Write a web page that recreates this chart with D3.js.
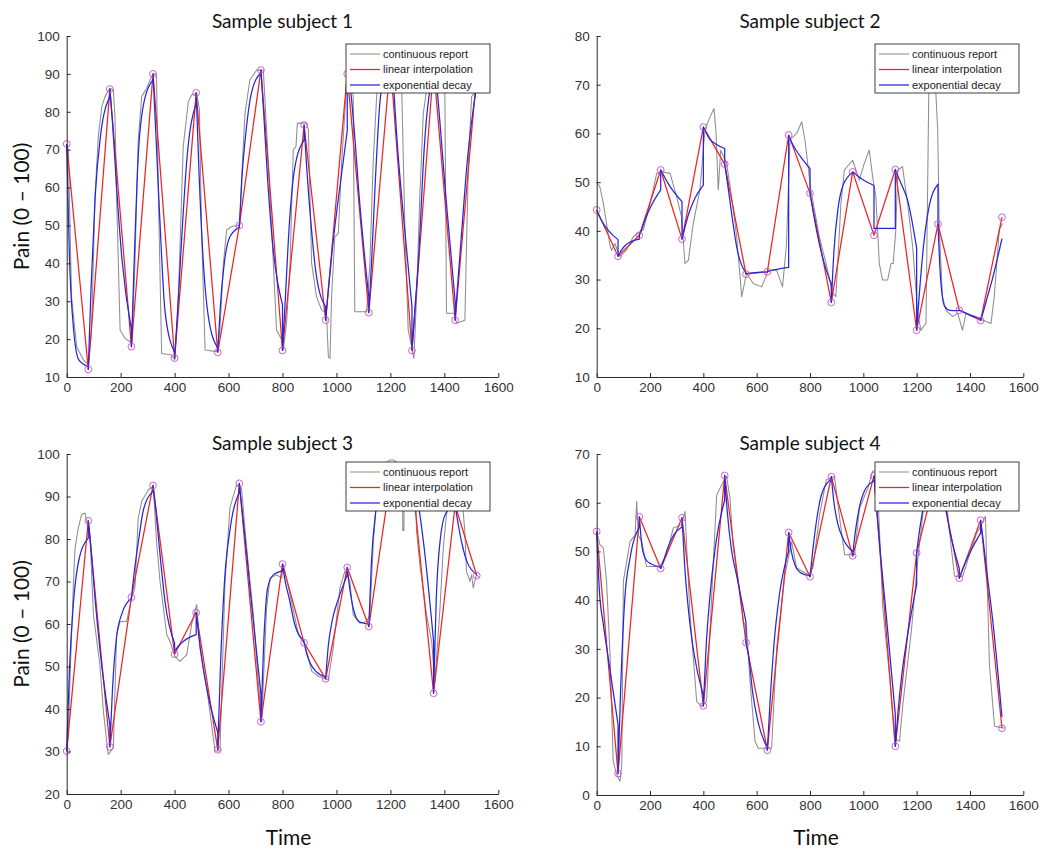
<!DOCTYPE html>
<html>
<head>
<meta charset="utf-8">
<script src="https://cdn.jsdelivr.net/npm/d3@7"></script>
<style>
  body { margin: 0; background: #fff; }
  svg { display: block; }
</style>
</head>
<body>
<svg id="fig" width="1047" height="852"></svg>
<script>
// ---- sampling grid shared by all subjects ----
const sampleTimes = [0, 80, 160, 240, 320, 400, 480, 560, 640, 720, 800, 880, 960, 1040, 1120, 1200, 1280, 1360, 1440, 1520];
// time offsets (within each sampling interval) of the exponential-decay readings
const blueOffsets = [0, 10, 25, 45, 80];

const xTicks = [0, 200, 400, 600, 800, 1000, 1200, 1400, 1600];
const yTicks1 = [10, 20, 30, 40, 50, 60, 70, 80, 90, 100];
const yTicks2 = [10, 20, 30, 40, 50, 60, 70, 80];
const yTicks3 = [20, 30, 40, 50, 60, 70, 80, 90, 100];
const yTicks4 = [0, 10, 20, 30, 40, 50, 60, 70];

const seriesNames = ["continuous report", "linear interpolation", "exponential decay"];
const titles = ["Sample subject 1", "Sample subject 2", "Sample subject 3", "Sample subject 4"];

// ---- subject 1 ----
const gray1 = [[0,71.5],[6,70],[18,31],[37,18],[62,14.5],[80,13.2],[92,22],[105,57.6],[117,73.4],[130,81.3],[142,84],[160,86.2],[173,85.7],[179,78.7],[185,57.6],[198,22.4],[216,20.2],[235,19.3],[241,18.9],[253,40],[265,72.5],[278,84],[296,86.2],[315,89.3],[327,90.1],[333,89.3],[340,57.6],[352,16.2],[389,15.8],[401,14.5],[414,31.2],[432,70.8],[451,82.7],[463,84.4],[482,84.9],[492,80.5],[500,48.8],[513,17.1],[556,16.7],[568,22.4],[581,40],[593,48.8],[611,49.7],[642,50.1],[648,62],[661,79.6],[679,88.4],[704,91],[729,91],[741,75.2],[760,48.8],[778,22.4],[797,19.8],[803,17.1],[815,24.2],[828,40],[840,69.9],[850,70.8],[855,77],[889,77],[896,75.2],[908,40],[926,31.2],[945,27.7],[963,26.8],[970,15.4],[976,14.9],[982,31.2],[994,47],[1007,47.9],[1019,66.4],[1031,79.6],[1038,88.4],[1045,92],[1058,92],[1062,84],[1068,27.2],[1112,27.2],[1124,40],[1136,66.4],[1149,84],[1160,92],[1235,92],[1242,85.7],[1254,48.8],[1266,22.4],[1279,18],[1287,14.9],[1297,31.2],[1309,57.6],[1322,79.6],[1334,85.7],[1345,92],[1395,92],[1402,84],[1408,26.8],[1439,26.8],[1445,24.2],[1476,25],[1489,66.4],[1501,84],[1520,85.7],[1530,86]];
const red1 = [71.5, 12, 86, 18, 90, 15, 85, 16.5, 50, 91, 17, 76.5, 25, 90, 27, 93, 17, 92, 25, 90];
const blue1 = [
  [71.5, 42, 23, 14.5, 12.7],
  [12, 33, 57, 73.5, 84],
  [86, 77, 60, 41, 22.5],
  [18, 40, 68, 82, 88.4],
  [90, 75, 52, 27, 16.5],
  [15, 26, 45, 67, 82.3],
  [85, 65, 42, 26, 17.6],
  [16.7, 29, 40.5, 47, 49.5],
  [50, 63, 75, 85, 90.3],
  [91, 80, 62, 44, 29],
  [17, 30, 50, 65, 72.5],
  [76.5, 65, 51, 37, 28.5],
  [25, 33, 44, 56, 75],
  [90, 87, 76, 57, 31],
  [27, 40, 63, 85, 92],
  [93, 88, 72, 55, 28.5],
  [17, 27, 42, 70, 91],
  [92, 88, 76, 58, 30],
  [25, 35, 49, 67, 87]
];

// ---- subject 2 ----
const gray2 = [[0,50],[12,49],[25,45.6],[37,41.5],[50,37],[56,36],[68,37.4],[87,34.7],[112,36.1],[137,38.8],[175,40.2],[200,45.6],[225,51.8],[250,52.1],[275,51.8],[300,47],[318,42.9],[331,33.3],[344,34],[362,41.5],[387,48.4],[406,60.7],[425,63.4],[440,65.1],[447,60.7],[456,48.4],[465,56.6],[487,53.9],[506,47],[525,38.8],[544,26.5],[562,31.3],[587,29.2],[619,28.5],[644,31.9],[675,31.9],[697,28.5],[712,37.4],[725,58.7],[750,60],[769,62.4],[781,58.7],[803,48.4],[835,38.8],[860,33.3],[885,27.2],[897,26.5],[916,45.6],[929,52.5],[960,54.5],[985,50.4],[1004,53.9],[1022,56.6],[1035,51.1],[1047,47],[1060,33.3],[1072,29.9],[1091,29.9],[1104,33.3],[1112,33.3],[1122,40.2],[1129,52.5],[1147,53.2],[1166,45.6],[1185,36.8],[1204,23.1],[1216,19.6],[1235,21],[1247,75],[1266,75],[1279,60.7],[1285,40.2],[1297,26.5],[1310,23.7],[1335,22.4],[1354,23.1],[1372,19.6],[1385,23.1],[1422,22.4],[1447,21.7],[1479,21],[1491,26.5],[1510,40.2],[1522,41.5]];
const red2 = [44.3, 34.8, 39.1, 52.5, 38.3, 61.3, 53.7, 31.1, 31.6, 59.7, 47.7, 25.3, 52.1, 39.1, 52.6, 19.6, 41.4, 23.7, 21.6, 42.8];
const blue2 = [
  [44.3, 43.0, 41.5, 40.0, 38.2],
  [34.8, 35.8, 36.9, 37.7, 38.3],
  [39.1, 40.5, 42.8, 45.2, 48.4],
  [52.5, 51.5, 50.0, 48.3, 46.0],
  [38.3, 40.5, 43.5, 46.3, 49.4],
  [61.3, 60.2, 58.8, 57.9, 56.9],
  [53.7, 50, 44, 36.7, 31.3],
  [31.2, 31.3, 31.4, 31.5, 31.6],
  [31.6, 31.8, 32.0, 32.2, 32.5],
  [59.5, 58.3, 56.8, 55.2, 52.8],
  [47.7, 44.5, 40, 35, 29],
  [25.3, 36, 44.5, 49.5, 52],
  [52.1, 51.7, 51, 50.3, 49.3],
  [40.5, 40.5, 40.5, 40.5, 40.5],
  [52.6, 51.2, 49.3, 46.5, 36.5],
  [19.6, 27, 36.5, 44.5, 49.6],
  [41.4, 30, 24.5, 23.7, 23.6],
  [23.7, 23.5, 23.1, 22.6, 21.9],
  [21.6, 23.4, 26.4, 30.3, 38.4]
];

// ---- subject 3 ----
const gray3 = [[0,30],[6,34],[12,46.5],[25,70],[31,77.9],[43,82.6],[55,85.7],[68,86.1],[74,84.2],[80,83.4],[86,81],[99,62.2],[123,50.4],[136,39.5],[148,32.4],[154,29.3],[173,30.9],[185,57.5],[198,60.6],[222,60.6],[241,66.1],[253,68.5],[265,84.9],[278,88.9],[303,91.6],[321,92.4],[333,79.4],[346,70],[371,57.5],[383,55.9],[401,52.4],[420,51.2],[445,52.8],[463,59.9],[482,64.6],[494,54.4],[519,45],[537,36.3],[550,30.1],[568,30.1],[587,70],[605,87.3],[630,92.8],[648,92],[667,77.9],[692,62.2],[710,46.5],[723,37.1],[741,63.8],[754,70.8],[778,71.6],[797,70.8],[803,74],[828,66.9],[859,57.5],[883,55.2],[908,48.9],[933,47.7],[970,46.9],[988,54.4],[1013,68.5],[1031,72.4],[1050,70],[1062,62.2],[1087,60.2],[1112,60.6],[1124,62.2],[1137,79.4],[1149,89.6],[1165,97],[1198,98.6],[1212,98.6],[1244,97],[1246,82],[1250,82],[1252,97],[1290,97],[1297,81.8],[1309,74],[1334,62.2],[1353,55.9],[1365,46.5],[1377,57.5],[1384,63.8],[1396,77.9],[1408,85.7],[1420,90],[1465,90],[1476,81.8],[1482,72.4],[1495,70],[1501,71.6],[1507,68.5],[1519,71.6],[1528,71]];
const red3 = [30.1, 84.3, 31.1, 66.3, 92.6, 52.9, 62.7, 30.4, 93.1, 37.0, 74.1, 55.6, 47.1, 73.3, 59.4, 94, 95, 43.7, 88, 71.4];
const blue3 = [
  [30.1, 49, 65, 75, 80.2],
  [84.3, 78, 66, 53, 36.3],
  [31.1, 45, 57, 62.5, 66],
  [66.3, 72, 79, 87, 91.2],
  [92.6, 87, 77, 65, 55.5],
  [53.5, 54.5, 55.5, 56.5, 57.5],
  [62.7, 57, 50, 43, 34.5],
  [30.4, 50, 70, 82, 91],
  [93.1, 87, 78, 65, 43.5],
  [37, 55, 68.5, 71.5, 72.5],
  [74.1, 70, 66, 60, 56],
  [55.6, 53, 50.5, 48.8, 47.5],
  [47.1, 55, 61, 65.5, 71.5],
  [73.3, 68, 63, 60.5, 60],
  [59.4, 75, 86, 92, 94],
  [94, 94.5, 95, 95, 95],
  [95, 92, 87.5, 78, 56],
  [43.7, 66, 80, 86, 88],
  [88, 84, 79, 74.5, 71.7]
];

// ---- subject 4 ----
const gray4 = [[0,54.1],[12,51.4],[25,50.7],[37,43.9],[50,28.8],[62,6.9],[75,4.2],[87,2.8],[94,6.2],[100,43.9],[125,52],[144,53.4],[150,60.3],[156,53.4],[169,52],[187,46.9],[237,46.9],[262,49.3],[287,54.8],[319,55.5],[331,58.2],[350,37],[375,19.2],[394,18.2],[412,19.2],[437,47.3],[450,61.6],[469,63.7],[487,65.4],[500,61],[512,50.7],[537,41.8],[550,35.6],[562,34.3],[575,23.3],[594,11],[606,9.6],[656,9.6],[675,30.2],[706,45.2],[731,52],[750,46.6],[794,45.2],[811,46.6],[836,57.5],[861,64.7],[892,65.4],[911,56.9],[930,49.3],[967,49.3],[986,58.9],[1017,63],[1035,66.5],[1050,66.5],[1058,57.5],[1073,38.4],[1098,24.7],[1117,11.7],[1136,11],[1148,18.5],[1180,33.6],[1205,48.7],[1223,57.5],[1240,67],[1300,67],[1323,54.1],[1342,44.9],[1373,44.9],[1398,49.3],[1423,53.4],[1458,57.2],[1473,26.8],[1492,14.1],[1530,13.7]];
const red4 = [54.1, 4.4, 57.1, 46.5, 56.9, 18.3, 65.6, 31.3, 9.2, 53.9, 44.8, 65.35, 49.1, 65.5, 10, 49.7, 67, 44.5, 56.4, 13.7];
const blue4 = [
  [54.1, 42, 35, 27.5, 14.5],
  [4.4, 22, 40, 48.6, 55],
  [57.1, 51, 48.3, 47.4, 46.8],
  [46.5, 48, 50.5, 53, 55],
  [56.9, 47, 37.5, 29, 20.5],
  [18.3, 30, 41, 51, 60.5],
  [65.6, 58, 50.5, 45, 35.5],
  [31.3, 28.5, 21, 15, 9.7],
  [9.2, 19, 31, 41, 50],
  [53.9, 50, 47, 45.6, 45],
  [44.8, 50, 56.5, 62, 64.8],
  [65.35, 60, 55.5, 52.5, 50],
  [49.1, 54, 59, 62.5, 64.5],
  [65.5, 59, 49, 37.5, 16.5],
  [10, 17, 25, 32.5, 43.2],
  [49.7, 54, 59, 63, 66],
  [67, 64, 60, 54, 46.5],
  [44.5, 46, 48, 50.3, 53.8],
  [56.4, 52, 45, 36, 16]
];

// ---- layout of the four panels ----
const panels = [
  { title: titles[0], gray: gray1, red: red1, blue: blue1, yDomain: [10, 100], yTicks: yTicks1,
    left: 66.7, right: 498.3, top: 36, bottom: 377, titleY: 28, legendRight: 490, yLabel: true, xLabel: false },
  { title: titles[1], gray: gray2, red: red2, blue: blue2, yDomain: [10, 80], yTicks: yTicks2,
    left: 596.7, right: 1023.3, top: 36, bottom: 377, titleY: 27.5, legendRight: 1019, yLabel: false, xLabel: false },
  { title: titles[2], gray: gray3, red: red3, blue: blue3, yDomain: [20, 100], yTicks: yTicks3,
    left: 66.7, right: 498.3, top: 454, bottom: 794, titleY: 449.5, legendRight: 490, yLabel: true, xLabel: true },
  { title: titles[3], gray: gray4, red: red4, blue: blue4, yDomain: [0, 70], yTicks: yTicks4,
    left: 596.7, right: 1023.3, top: 454, bottom: 795, titleY: 449.5, legendRight: 1019, yLabel: false, xLabel: true }
];

const colors = { gray: "#8e8e8e", red: "#ee2424", blue: "#2626e0", marker: "#c452cc", axis: "#2b2b2b" };
const tickFont = "'Liberation Sans', Arial, Helvetica, sans-serif";
const labelFont = "Lato, 'Open Sans', sans-serif";
const plainNumber = d3.format("d");

const svg = d3.select("#fig");

panels.forEach(p => {
  const g = svg.append("g");
  const x = d3.scaleLinear().domain([0, 1600]).range([p.left, p.right]);
  const y = d3.scaleLinear().domain(p.yDomain).range([p.bottom, p.top]);

  // continuous report
  const straight = d3.line().x(d => x(d[0])).y(d => y(d[1]));
  g.append("path")
    .datum(p.gray)
    .attr("d", straight)
    .attr("fill", "none")
    .attr("stroke", colors.gray)
    .attr("stroke-width", 1.05)
    .attr("stroke-linejoin", "round");

  // linear interpolation between samples
  const samples = sampleTimes.map((t, i) => [t, p.red[i]]);
  g.append("path")
    .datum(samples)
    .attr("d", straight)
    .attr("fill", "none")
    .attr("stroke", colors.red)
    .attr("stroke-width", 1.25)
    .attr("stroke-linejoin", "round");

  // exponential decay: one smooth piece per sampling interval, joined end to start
  const smooth = d3.line().x(d => x(d[0])).y(d => y(d[1])).curve(d3.curveMonotoneX);
  let dPath = "";
  p.blue.forEach((vals, k) => {
    const pts = blueOffsets.map((o, j) => [sampleTimes[k] + o, vals[j]]);
    const piece = smooth(pts);
    dPath += (k === 0) ? piece : "L" + piece.slice(1);
  });
  g.append("path")
    .attr("d", dPath)
    .attr("fill", "none")
    .attr("stroke", colors.blue)
    .attr("stroke-width", 1.25)
    .attr("stroke-linejoin", "round");

  // sample markers
  g.selectAll("circle.sample")
    .data(samples)
    .join("circle")
    .attr("class", "sample")
    .attr("cx", d => x(d[0]))
    .attr("cy", d => y(d[1]))
    .attr("r", 3.4)
    .attr("fill", "none")
    .attr("stroke", colors.marker)
    .attr("stroke-width", 0.9);

  // axes (ticks point inward)
  const xAxis = d3.axisBottom(x).tickValues(xTicks).tickFormat(plainNumber)
    .tickSizeInner(-4).tickSizeOuter(0).tickPadding(5);
  const yAxis = d3.axisLeft(y).tickValues(p.yTicks).tickFormat(plainNumber)
    .tickSizeInner(-4).tickSizeOuter(0).tickPadding(7);

  const gx = g.append("g").attr("transform", `translate(0,${p.bottom})`).call(xAxis);
  const gy = g.append("g").attr("transform", `translate(${p.left},0)`).call(yAxis);
  [gx, gy].forEach(a => {
    a.selectAll("path.domain").attr("stroke", colors.axis).attr("stroke-width", 1);
    a.selectAll(".tick line").attr("stroke", colors.axis).attr("stroke-width", 1);
    a.selectAll(".tick text")
      .attr("fill", "#333")
      .style("font-family", tickFont)
      .style("font-size", "13.5px");
  });

  // title
  g.append("text")
    .attr("x", (p.left + p.right) / 2)
    .attr("y", p.titleY)
    .attr("text-anchor", "middle")
    .style("font-family", labelFont)
    .style("font-size", "19px")
    .attr("fill", "#111")
    .text(p.title);

  if (p.yLabel) {
    const cy = (p.top + p.bottom) / 2;
    g.append("text")
      .attr("transform", `translate(29,${cy}) rotate(-90)`)
      .attr("text-anchor", "middle")
      .style("font-family", labelFont)
      .style("font-size", "21px")
      .attr("fill", "#111")
      .text("Pain (0 \u2013 100)");
  }
  if (p.xLabel) {
    g.append("text")
      .attr("x", (p.left + p.right) / 2 + 6)
      .attr("y", 845)
      .attr("text-anchor", "middle")
      .style("font-family", labelFont)
      .style("font-size", "21px")
      .attr("fill", "#111")
      .text("Time");
  }

  // legend (opaque box over the lines)
  const lw = 144, lh = 49;
  const lx = p.legendRight - lw, ly = p.top + 8;
  const lg = g.append("g");
  lg.append("rect")
    .attr("x", lx).attr("y", ly).attr("width", lw).attr("height", lh)
    .attr("fill", "#fff").attr("stroke", colors.axis).attr("stroke-width", 0.9);
  const legendColors = [colors.gray, colors.red, colors.blue];
  seriesNames.forEach((name, i) => {
    const ry = ly + 10 + i * 15.5;
    lg.append("line")
      .attr("x1", lx + 4).attr("x2", lx + 34)
      .attr("y1", ry).attr("y2", ry)
      .attr("stroke", legendColors[i])
      .attr("stroke-width", i === 0 ? 1.05 : 1.25);
    lg.append("text")
      .attr("x", lx + 37)
      .attr("y", ry)
      .attr("dy", "0.35em")
      .style("font-family", tickFont)
      .style("font-size", "11px")
      .attr("fill", "#222")
      .text(name);
  });
});
</script>
</body>
</html>
